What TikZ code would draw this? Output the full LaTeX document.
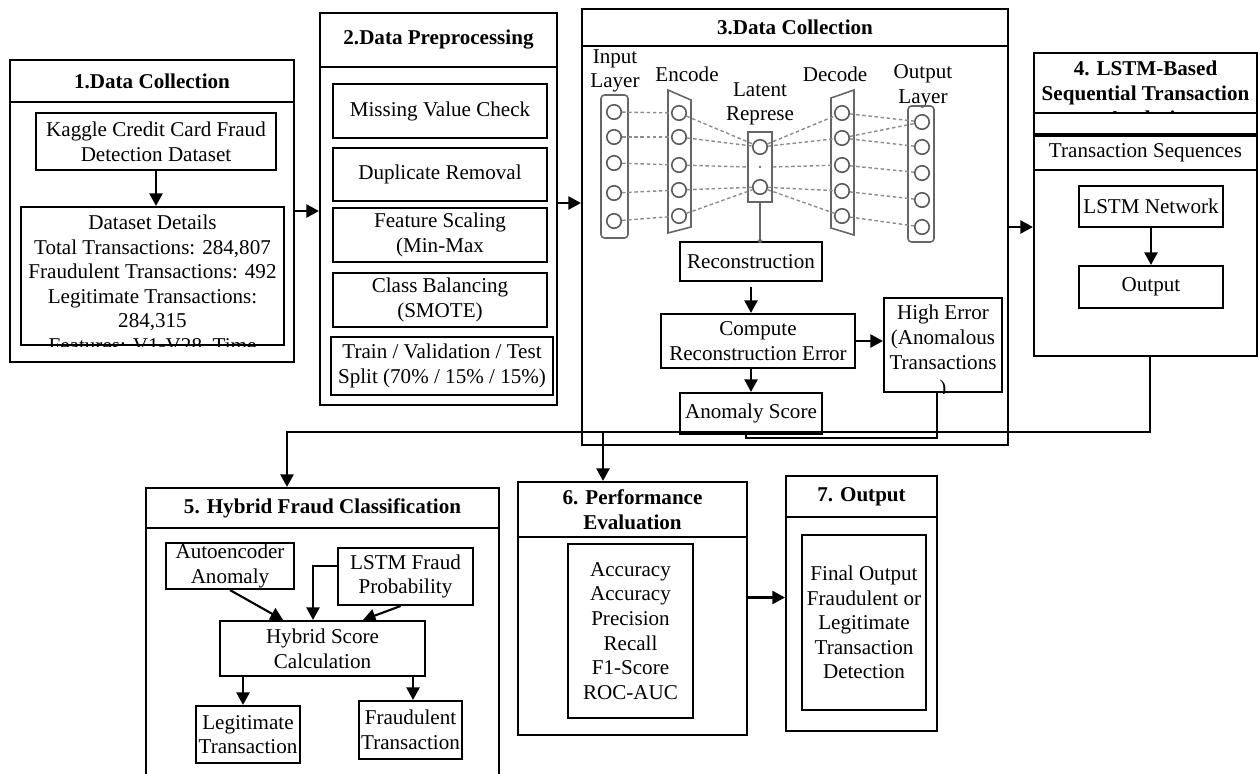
\documentclass[tikz,border=0pt]{standalone}
\usepackage{fontspec}
\setmainfont{Liberation Serif}
\usetikzlibrary{positioning,fit,arrows.meta}

\begin{document}
\begin{tikzpicture}[x=0.02cm, y=-0.02cm,
  sz/.style 2 args={minimum width=#1*0.02cm, minimum height=#2*0.02cm},
  frame/.style={draw, line width=1.2pt, inner sep=0pt},
  box/.style={draw, line width=1.2pt, inner sep=0pt, align=center, font=\fontsize{12}{14}\selectfont},
  ttl/.style={draw, line width=1.2pt, inner sep=0pt, align=center, font=\bfseries\fontsize{12}{14}\selectfont},
  txt/.style={align=center, inner sep=0pt, font=\fontsize{12}{14}\selectfont},
  arr/.style={-{Triangle[length=0.25cm, width=0.26cm]}, line width=1.2pt},
  link/.style={line width=1.2pt},
  neuron/.style={circle, draw=black!65, line width=0.9pt, minimum size=0.29cm, inner sep=0pt},
  nnframe/.style={draw=black!60, line width=0.9pt},
  nnline/.style={draw=black!45, dash pattern=on 2pt off 1.5pt, line width=0.8pt}]

    \useasboundingbox (0,0) rectangle (1258,774);

    % Section 1
    \node[frame, fit={(10,60) (294,362)}] (s1) {};
    \node[ttl, sz={284}{42}] (t1) at (152,81) {1.Data Collection};
    \node[box, sz={240}{57}] (kag) at (156,141.5) {Kaggle Credit Card Fraud\\Detection Dataset};
    \node[frame, fit={(21,207) (284,345)}] (det) {};
    \begin{scope}
      \clip (det.south west) rectangle (det.north east);
      \node[txt, font=\fontsize{12}{13.9}\selectfont, anchor=north] (dettxt) at ([yshift=-0.18cm]det.north)
        {Dataset Details\\Total Transactions: 284,807\\Fraudulent Transactions: 492\\Legitimate Transactions:\\284,315\\Features: V1-V28, Time};
    \end{scope}
    \draw[arr] (kag.south) -- (kag.south |- det.north);

    % Section 2
    \node[frame, fit={(320,13) (557,405)}] (s2) {};
    \node[ttl, sz={237}{54}] (t2) at (438.5,40) {2.Data Preprocessing};
    \node[box, sz={214}{54}] (mv) at (440,111) {Missing Value Check};
    \node[box, sz={214}{53}] (dup) at (440,174.5) {Duplicate Removal};
    \node[box, sz={214}{54}] (fs) at (440,235) {Feature Scaling\\(Min-Max};
    \node[box, sz={214}{54}] (cb) at (440,300) {Class Balancing\\(SMOTE)};
    \node[box, sz={222}{58}] (tvt) at (442,366) {Train / Validation / Test\\Split (70\% / 15\% / 15\%)};

    % Section 3
    \node[frame, fit={(582,9) (1008,445)}] (s3) {};
    \node[ttl, sz={426}{37}] (t3) at (795,27.5) {3.Data Collection};

    % Autoencoder sketch
    \node[txt] (lin) at (615,71) {Input\\Layer};
    \node[txt] (lenc) at (687,74) {Encode};
    \node[txt] (llat) at (760,104) {Latent\\Represe};
    \node[txt] (ldec) at (835,74) {Decode};
    \node[txt] (lout) at (923,86) {Output\\Layer};

    \draw[nnframe, rounded corners=2pt] (601,95) rectangle (628,238);
    \foreach \y [count=\i] in {112,137,163,193,221}
      \node[neuron] (in\i) at (614,\y) {};
    \draw[nnframe] (668,90) -- (691,100) -- (691,227) -- (668,233) -- cycle;
    \foreach \y [count=\i] in {113,137,165,190,216}
      \node[neuron] (en\i) at (679,\y) {};
    \node[nnframe, inner sep=0pt, fit={(748,132) (772,202)}] (lat) {};
    \node[neuron] (la1) at (760,147) {};
    \node[neuron] (la2) at (760,187) {};
    \fill[black!55] (lat.center) circle[radius=1.3];
    \draw[nnframe] (831,98) -- (854,90) -- (854,235) -- (831,228) -- cycle;
    \foreach \y [count=\i] in {113,138,165,191,216}
      \node[neuron] (de\i) at (842,\y) {};
    \draw[nnframe, rounded corners=2pt] (908,106) rectangle (934,242);
    \foreach \y [count=\i] in {122,147,173,200,227}
      \node[neuron] (ou\i) at (922,\y) {};

    \foreach \i in {1,...,5} {
      \draw[nnline] (in\i) -- (en\i);
      \draw[nnline] (de\i) -- (ou\i);
    }
    \foreach \a/\b in {en1/la1,en2/la1,en3/lat.west,en4/la2,en5/la2}
      \draw[nnline] (\a) -- (\b);
    \foreach \a/\b in {la1/de1,la1/de2,lat.east/de3,la2/de4,la2/de5}
      \draw[nnline] (\a) -- (\b);
    \draw[nnline] (de2) -- (ou1);

    \node[box, sz={142}{39}] (recon) at (751,261.5) {Reconstruction};
    \draw[nnframe] (lat.south) -- (lat.south |- recon.north);
    \fill[black!60] (lat.south |- recon.north) circle[radius=2];
    \node[box, sz={194}{54}] (comp) at (758,341) {Compute\\Reconstruction Error};
    \node[frame, fit={(884,298) (1002,392)}] (high) {};
    \begin{scope}
      \clip (high.south west) rectangle (high.north east);
      \node[txt, font=\fontsize{12}{14.2}\selectfont, anchor=north] (hightxt) at ([yshift=-0.15cm]high.north)
        {High Error\\(Anomalous\\Transactions\\)};
    \end{scope}
    \node[box, sz={142}{41}] (anom) at (751,413.5) {Anomaly Score};

    \draw[arr] (recon.south |- 0,287) -- (recon.south |- comp.north);
    \draw[arr] (comp.east) -- (comp.east -| high.west);
    \draw[arr] (anom.north |- comp.south) -- (anom.north);
    \draw[link] ([xshift=-0.12cm]high.south) -- ++(0,45) -| ([xshift=-0.1cm]anom.south);

    % Section 4
    \node[frame, fit={(1034,53) (1257,356)}] (s4) {};
    \node[txt, font=\bfseries\fontsize{12}{14}\selectfont, anchor=north] (t4txt) at (1145.5,61)
      {4. LSTM-Based\\Sequential Transaction\\Analysis};
    \node[frame, fit={(1034,53) (1257,113)}] (t4) {};
    \node[frame, fill=white, fit={(1034,113) (1257,134)}] (gap4) {};
    \node[box, sz={223}{34}] (seq) at (1145.5,153) {Transaction Sequences};
    \node[box, sz={144}{41}] (lstm) at (1151,206.5) {LSTM Network};
    \node[box, sz={144}{42}] (out4) at (1151,287) {Output};
    \draw[arr] (lstm) -- (out4);

    % Section 5
    \node[frame, fit={(146,488) (499,800)}] (s5) {};
    \node[ttl, sz={353}{40}] (t5) at (322.5,508) {5. Hybrid Fraud Classification};
    \node[box, sz={128}{46}] (auto) at (230,566) {Autoencoder\\Anomaly};
    \node[box, sz={135}{57}] (lstmp) at (405.5,576.5) {LSTM Fraud\\Probability};
    \node[box, sz={205}{55}] (hyb) at (322.5,648.5) {Hybrid Score\\Calculation};
    \node[box, sz={104}{57}] (legit) at (248,734.5) {Legitimate\\Transaction};
    \node[box, sz={103}{58}] (fraud) at (410.5,730) {Fraudulent\\Transaction};

    \draw[arr] (auto.south) -- ([xshift=-0.79cm]hyb.north);
    \draw[arr] ([yshift=0.21cm]lstmp.west) -| ([xshift=-0.19cm]hyb.north);
    \draw[arr] ([xshift=-0.1cm]lstmp.south) -- ([xshift=0.81cm]hyb.north);
    \draw[arr] ([xshift=-0.1cm]legit.north |- hyb.south) -- ([xshift=-0.1cm]legit.north);
    \draw[arr] ([xshift=0.05cm]fraud.north |- hyb.south) -- ([xshift=0.05cm]fraud.north);

    % Section 6
    \node[frame, fit={(518,482) (747,735)}] (s6) {};
    \node[ttl, sz={229}{55}] (t6) at (632.5,509.5) {6. Performance\\Evaluation};
    \node[box, sz={125}{174}] (met) at (630.5,631) {Accuracy\\Accuracy\\Precision\\Recall\\F1-Score\\ROC-AUC};

    % Section 7
    \node[frame, fit={(786,476) (937,731)}] (s7) {};
    \node[ttl, sz={151}{41}] (t7) at (861.5,496.5) {7. Output};
    \node[box, sz={124}{175}] (fin) at (864,622.5) {Final Output\\Fraudulent or\\Legitimate\\Transaction\\Detection};

    % Links between sections
    \draw[arr] (s1.east) -- (s1.east -| s2.west);
    \draw[arr] ([yshift=0.12cm]s2.east) -- ([yshift=0.12cm]s2.east -| s3.west);
    \draw[arr] (s3.east) -- (s3.east -| s4.west);
    \coordinate (bus5) at (287,432);
    \coordinate (bus6) at (603,432);
    \draw[arr] ([xshift=0.09cm]s4.south) |- (bus5) -- (bus5 |- s5.north);
    \draw[arr] (bus6) -- (bus6 |- s6.north);
    \draw[arr] ([yshift=0.22cm]s6.east) -- ([yshift=0.22cm]s6.east -| s7.west);

\end{tikzpicture}
\end{document}
